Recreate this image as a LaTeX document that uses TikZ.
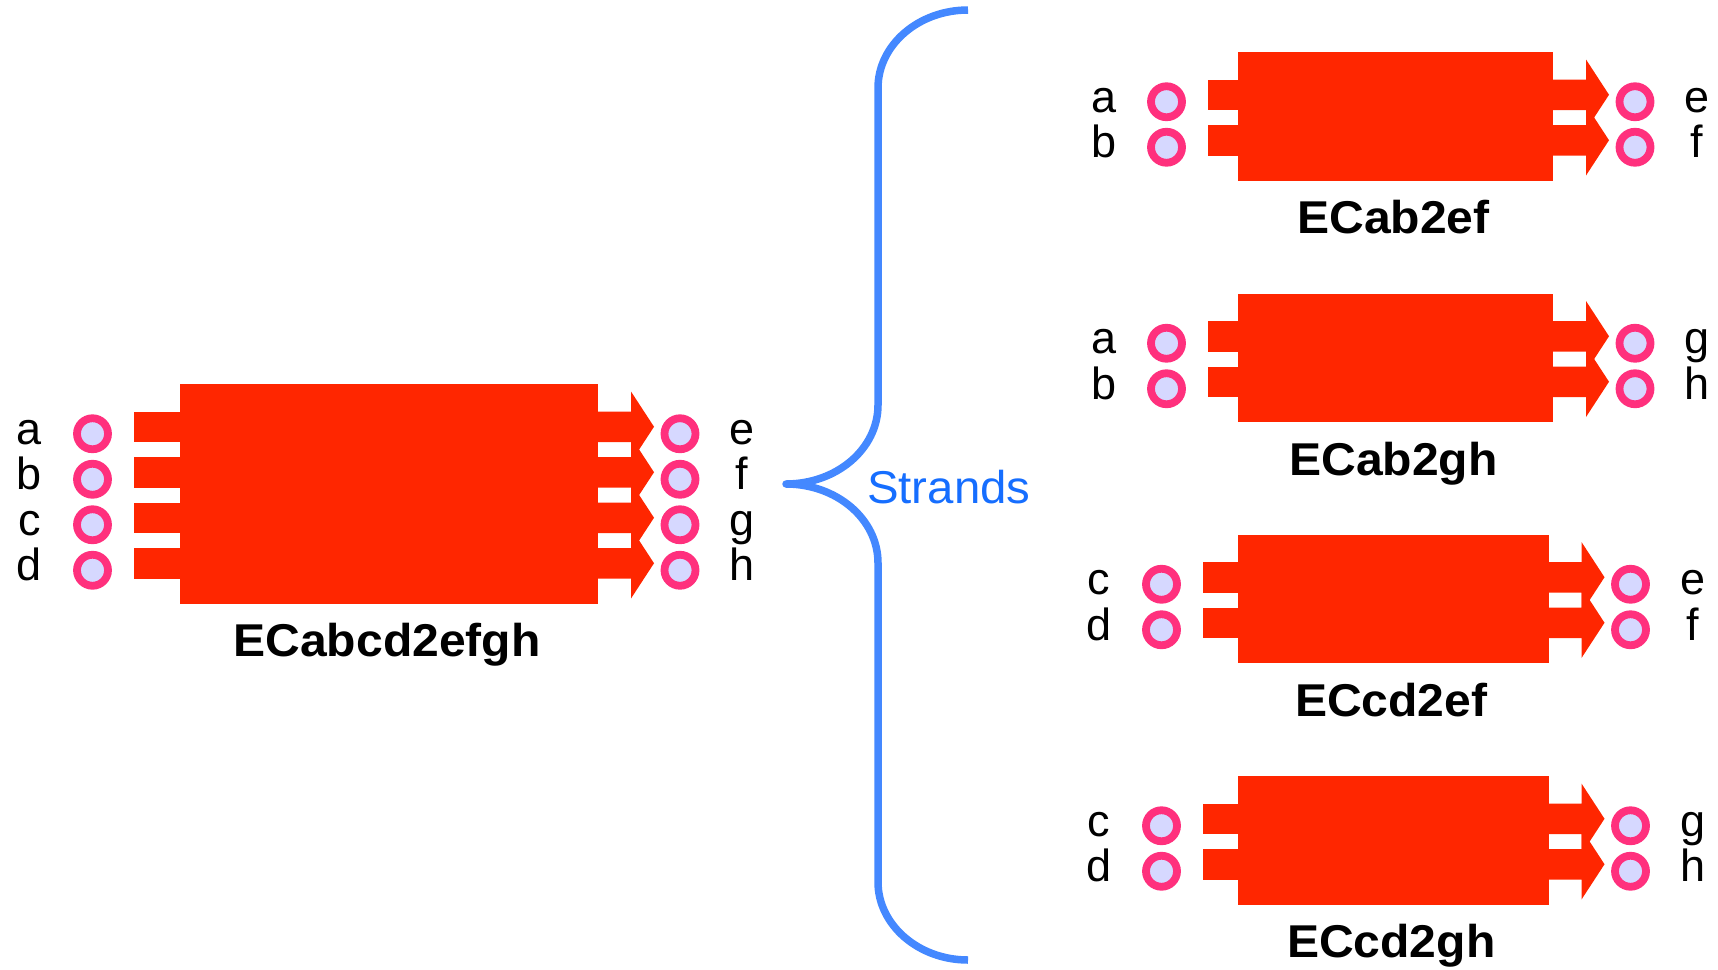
\documentclass[tikz,border=0pt]{standalone}
\usepackage{graphicx}
\usepackage{fontspec}
\setmainfont{Liberation Sans}
\definecolor{ecred}{RGB}{255,38,0}
\definecolor{ringpink}{RGB}{255,48,125}
\definecolor{portfill}{RGB}{214,216,255}
\definecolor{bracecol}{RGB}{68,136,255}
\definecolor{strandcol}{RGB}{22,110,255}
\tikzset{
  port/.style={circle, draw=ringpink, line width=7.8pt, fill=portfill, minimum size=31pt, inner sep=0pt},
  portlabel/.style={anchor=base, inner sep=0pt, font=\fontsize{45}{54}\selectfont},
  unittitle/.style={anchor=base, inner sep=0pt, font=\fontsize{46}{55}\selectfont\bfseries},
  bracestroke/.style={draw=bracecol, line width=7.5pt, line join=round},
}
% One converter unit: #1 id, #2 tab left, #3 body left, #4 body right, #5 body top,
% #6 inputs, #7 outputs, #8 title, #9 number of rows
\newcommand{\ecunit}[9]{%
  \pgfmathsetmacro{\ecbot}{#5+83+(#9-1)*45.5}
  \pgfmathsetmacro{\ecmid}{(#3+#4)/2-2}
  \fill[ecred] (#3,#5) rectangle (#4,\ecbot);
  \foreach \lab [count=\k from 0] in {#6} {
    \pgfmathsetmacro{\ty}{#5+27.5+\k*45.5}
    \fill[ecred] (#2,\ty) rectangle (#3+1,\ty+30.5);
    \node[port] (#1-\lab) at (#2-41.5,\ty+22.25) {};
    \node[portlabel] at (#2-104.5,\ty+32.75) {\lab};
  }
  \foreach \lab [count=\k from 0] in {#7} {
    \pgfmathsetmacro{\ty}{#5+27.5+\k*45.5}
    \fill[ecred] (#4-1,\ty) -- (#4+33,\ty) -- (#4+33,\ty-20) -- (#4+56,\ty+15.25)
      -- (#4+33,\ty+50.5) -- (#4+33,\ty+30.5) -- (#4-1,\ty+30.5) -- cycle;
    \node[port] (#1-\lab) at (#4+82,\ty+22.25) {};
    \node[portlabel] at (#4+144,\ty+32.75) {\lab};
  }
  \node[unittitle] (#1-title) at (\ecmid,\ecbot+53.3) {\scalebox{1.045}[1]{#8}};
}
\begin{document}
\begin{tikzpicture}[x=1pt,y=-1pt]
\useasboundingbox (0,0) rectangle (1718,969);

% the full converter
\ecunit{big}{134}{180}{598}{384}{a,b,c,d}{e,f,g,h}{ECabcd2efgh}{4}

% its strands
\ecunit{s1}{1208}{1238}{1553}{52}{a,b}{e,f}{ECab2ef}{2}
\ecunit{s2}{1208}{1238}{1553}{293.5}{a,b}{g,h}{ECab2gh}{2}
\ecunit{s3}{1203}{1238}{1548.5}{534.5}{c,d}{e,f}{ECcd2ef}{2}
\ecunit{s4}{1203}{1238}{1548.5}{776}{c,d}{g,h}{ECcd2gh}{2}

% curly brace
\coordinate (btop) at (968,10);
\coordinate (btip) at (786,484);
\coordinate (bbot) at (968,960);
\draw[bracestroke] (btop) .. controls (918.5,10) and (878,45) .. (878,88)
  -- (878,405) .. controls (878,449) and (836.6,484) .. (btip)
  .. controls (836.6,484) and (878,519) .. (878,563)
  -- (878,882) .. controls (878,925) and (918.5,960) .. (bbot);
\node[anchor=base west, inner sep=0pt, text=strandcol, font=\fontsize{46}{55}\selectfont] (strands) at (867,503.3) {\scalebox{1.03}[1]{Strands}};
\end{tikzpicture}
\end{document}
